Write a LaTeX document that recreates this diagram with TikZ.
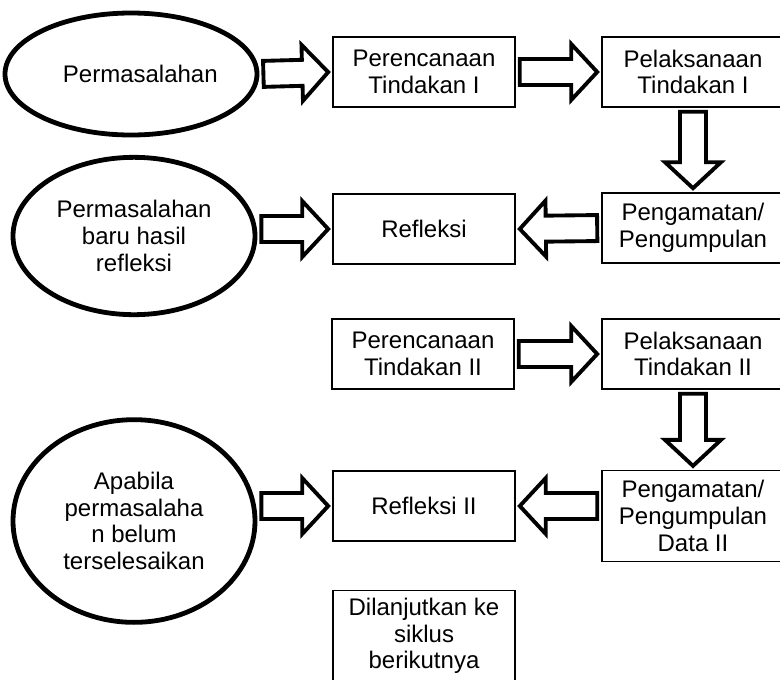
\documentclass[tikz,border=0pt]{standalone}
\usepackage{fontspec}
\setmainfont{Liberation Sans}
\usetikzlibrary{calc,shapes.geometric}

\tikzset{
	kotak/.style={draw, line width=1.2pt, minimum width=136.5pt, minimum height=52.5pt, align=center, inner sep=2pt, font=\fontsize{18}{20}\selectfont},
	elips/.style={draw, ellipse, line width=3.6pt, align=center, inner sep=0pt, font=\fontsize{18}{20}\selectfont},
	panah/.style={draw, line width=2.9pt, fill=white, line join=miter},
}

% hollow block arrow from node #1 to node #2
\newcommand{\panahblok}[2]{%
	\coordinate (pA) at ($(#1)!3pt!(#2)$);
	\coordinate (pB) at ($(#2)!3pt!(#1)$);
	\coordinate (pH) at ($(pB)!19.5pt!(pA)$);
	\draw[panah] ($(pA)!9.75pt!90:(pB)$) -- ($(pH)!9.75pt!-90:(pA)$) -- ($(pH)!21pt!-90:(pA)$)
		-- (pB) -- ($(pH)!21pt!90:(pA)$) -- ($(pH)!9.75pt!90:(pA)$) -- ($(pA)!9.75pt!-90:(pB)$) -- cycle;
}

\begin{document}
\begin{tikzpicture}[x=0.75pt, y=-0.75pt]
	\useasboundingbox (0, 0) rectangle (780, 679);
	\clip (0, 0) rectangle (780, 679);
	% siklus I
	\node[elips, minimum width=189pt, minimum height=91.5pt] (masalah) at (131, 74) {\hspace{14pt}Permasalahan};
	\node[kotak] (rencana1) at (424, 72) {Perencanaan\\Tindakan I};
	\node[kotak] (laksana1) at (693, 72) {Pelaksanaan\\Tindakan I};
	\node[kotak] (amat1) at (693, 228) {Pengamatan/\\Pengumpulan};
	\node[kotak] (refleksi1) at (424, 229) {Refleksi};
	\node[elips, minimum width=181.5pt, minimum height=118pt] (masalah2) at (134, 236) {Permasalahan\\baru hasil\\refleksi};
	% siklus II
	\node[kotak] (rencana2) at (423, 354) {Perencanaan\\Tindakan II};
	\node[kotak] (laksana2) at (693, 354) {Pelaksanaan\\Tindakan II};
	\node[kotak, minimum height=68pt] (amat2) at (693, 516) {Pengamatan/\\Pengumpulan\\Data II};
	\node[kotak] (refleksi2) at (424, 506) {Refleksi II};
	\node[elips, minimum width=181.5pt, minimum height=152pt] (masalah3) at (134, 521) {Apabila\\permasalaha\\n belum\\terselesaikan};
	\node[kotak, minimum height=68pt] (lanjut) at (424, 636) {Dilanjutkan ke\\siklus\\berikutnya};
	% panah
	\panahblok{masalah.east}{rencana1.west}
	\panahblok{rencana1.east}{laksana1.west}
	\panahblok{laksana1.south}{amat1.north}
	\panahblok{amat1.west}{refleksi1.east}
	\panahblok{masalah2.east |- refleksi1.west}{refleksi1.west}
	\panahblok{rencana2.east}{laksana2.west}
	\panahblok{laksana2.south}{amat2.north}
	\panahblok{amat2.west |- refleksi2.east}{refleksi2.east}
	\panahblok{masalah3.east |- refleksi2.west}{refleksi2.west}
\end{tikzpicture}
\end{document}
